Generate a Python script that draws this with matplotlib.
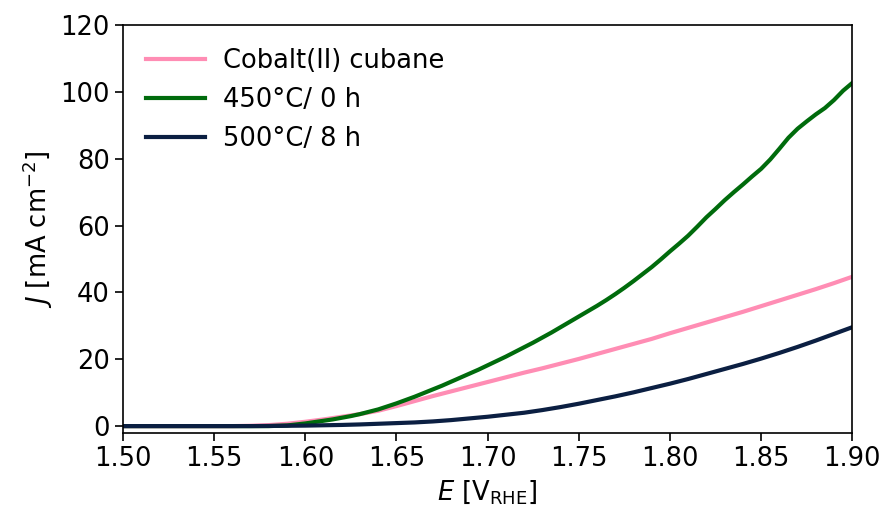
import numpy as np
import matplotlib

matplotlib.use("Agg")
import matplotlib.pyplot as plt

# Polarisation curves, current density J (mA cm^-2) vs potential E (V_RHE)
labels = ["Cobalt(II) cubane", "450°C/ 0 h", "500°C/ 8 h"]
colors = ["#ff8db4", "#006b0c", "#0b1f42"]

# Cobalt(II) cubane, 10 mV steps from 1.50 to 1.90 V
j_cubane = [0, 0, 0, 0, 0, 0, 0, 0.1, 0.3, 0.7,
            1.3, 2.0, 2.8, 3.6, 4.6, 6.0, 7.5, 9.0, 10.4, 11.8,
            13.2, 14.6, 16.0, 17.3, 18.7, 20.1, 21.6, 23.1, 24.6, 26.1,
            27.8, 29.4, 31.0, 32.6, 34.2, 35.9, 37.6, 39.3, 41.0, 42.8,
            44.7]

# 450°C / 0 h, 5 mV steps from 1.50 to 1.90 V
j_450 = [0, 0, 0, 0, 0, 0, 0, 0, 0, 0,
         0, 0, 0, 0, 0, 0, 0, 0.1, 0.2, 0.5,
         0.8, 1.2, 1.6, 2.0, 2.5, 3.0, 3.6, 4.3, 5.0, 5.9,
         6.8, 7.8, 8.8, 9.9, 11.0, 12.1, 13.3, 14.5, 15.7, 16.9,
         18.2, 19.5, 20.8, 22.2, 23.6, 25.0, 26.5, 28.0, 29.6, 31.2,
         32.8, 34.4, 36.0, 37.7, 39.5, 41.4, 43.4, 45.5, 47.6, 49.9,
         52.3, 54.6, 57.0, 59.7, 62.5, 65.0, 67.6, 70.0, 72.3, 74.7,
         77.0, 79.8, 83.0, 86.3, 89.0, 91.2, 93.3, 95.2, 97.6, 100.4,
         102.7]

# 500°C / 8 h, 10 mV steps from 1.50 to 1.90 V
j_500 = [0, 0, 0, 0, 0, 0, 0, 0, 0.05, 0.1,
         0.15, 0.25, 0.35, 0.5, 0.7, 0.9, 1.1, 1.4, 1.8, 2.3,
         2.8, 3.4, 4.0, 4.8, 5.7, 6.7, 7.8, 8.9, 10.1, 11.4,
         12.7, 14.1, 15.6, 17.1, 18.6, 20.2, 21.9, 23.7, 25.6, 27.6,
         29.6]

series = [j_cubane, j_450, j_500]

plt.rcParams["font.family"] = "DejaVu Sans"
plt.rcParams["font.size"] = 18.5

fig = plt.figure(figsize=(8.85, 5.14), dpi=100)
ax = fig.add_axes([0.139, 0.158, 0.824, 0.793])

for j, lab, c in zip(series, labels, colors):
    e = np.linspace(1.50, 1.90, len(j))
    ax.plot(e, j, color=c, lw=3, label=lab)

ax.set_xlim(1.50, 1.90)
ax.set_ylim(-2, 120)
ax.set_xticks(np.arange(1.50, 1.901, 0.05))
ax.set_yticks(np.arange(0, 121, 20))
ax.xaxis.set_major_formatter(matplotlib.ticker.FormatStrFormatter("%.2f"))
ax.tick_params(direction="out", length=6, width=1.2)
for s in ax.spines.values():
    s.set_linewidth(1.2)

ax.set_xlabel(r"$E$ [V$_{\mathrm{RHE}}$]")
ax.set_ylabel(r"$J$ [mA cm$^{-2}$]")

ax.legend(loc="upper left", frameon=False, handlelength=2.3,
          handletextpad=0.7, borderaxespad=0.5, labelspacing=0.5)

fig.savefig("out.png", dpi=100)
